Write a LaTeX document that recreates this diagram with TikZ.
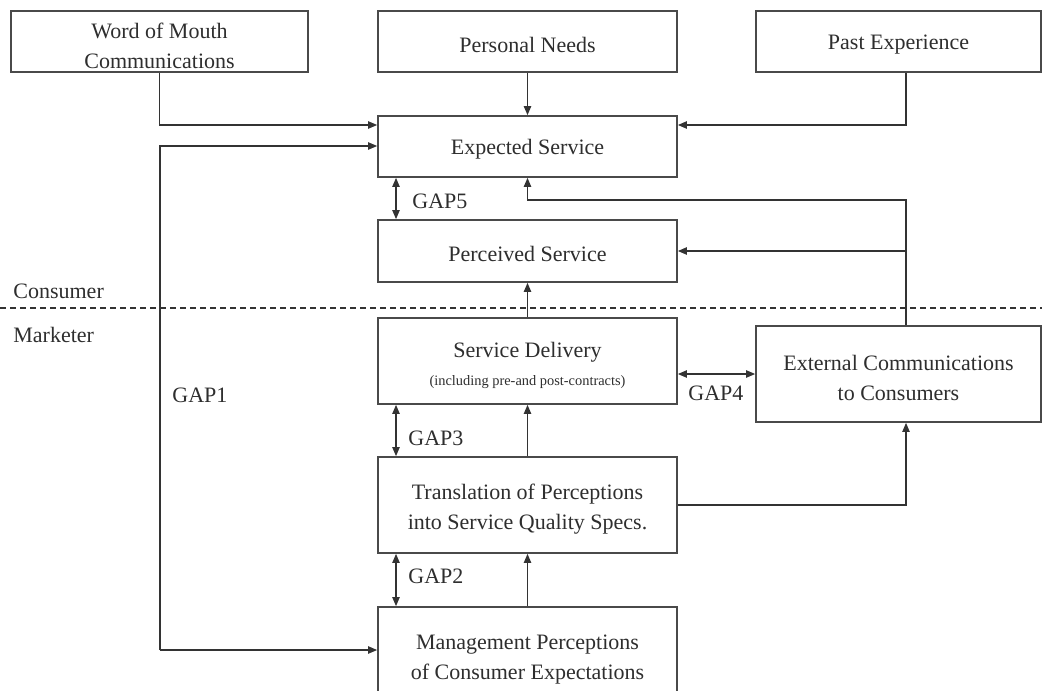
\documentclass[tikz,border=0pt]{standalone}
\usepackage{fontspec}
\setmainfont{Liberation Serif}
\usetikzlibrary{arrows.meta}
\definecolor{boxc}{HTML}{4A4A4A}
\definecolor{linec}{HTML}{333333}
\definecolor{txtc}{HTML}{2E2E2E}
\tikzset{
  box/.style={draw=boxc, line width=0.8pt, fill=white, align=center, inner sep=0pt,
    text=txtc, font=\fontsize{11}{15}\selectfont,
    execute at begin node={\rule{0pt}{10.8pt}}},
  box2/.style={draw=boxc, line width=0.8pt, fill=white, inner sep=0pt},
  txt/.style={align=center, inner sep=0pt, text=txtc, font=\fontsize{11}{15}\selectfont, yshift=-2pt},
  arr/.style={draw=linec, line width=0.75pt, -{Triangle[length=4.5pt,width=3.6pt]}},
  dbl/.style={draw=linec, line width=0.75pt, {Triangle[length=4.5pt,width=3.6pt]}-{Triangle[length=4.5pt,width=3.6pt]}},
  lab/.style={anchor=base west, inner sep=0pt, text=txtc, font=\fontsize{11}{15}\selectfont},
}
\begin{document}
\begin{tikzpicture}[x=0.5pt,y=-0.5pt]
\useasboundingbox (0,0) rectangle (1042,690);
% boxes
\node[box2, minimum width=148.5pt, minimum height=30.5pt] (wom) at (159.5,41.5) {};
\node[txt] (womt) at (wom) {Word of Mouth\\Communications};
\node[box, minimum width=149.5pt, minimum height=30.5pt] (pn) at (527.5,41.5) {Personal Needs};
\node[box, minimum width=142.5pt, minimum height=30.5pt] (pe) at (898.5,41.5) {Past Experience};
\node[box, minimum width=149.5pt, minimum height=30.5pt] (es) at (527.5,146.5) {Expected Service};
\node[box, minimum width=149.5pt, minimum height=31pt] (ps) at (527.5,251) {Perceived Service};
\node[box2, minimum width=149.5pt, minimum height=43pt] (sd) at (527.5,361) {};
\node[txt] (sdt) at (sd) {Service Delivery\\[-1pt]{\fontsize{7.2}{9}\selectfont (including pre-and post-contracts)}};
\node[box2, minimum width=142.5pt, minimum height=48pt] (ec) at (898.5,374) {};
\node[txt] (ect) at (ec) {External Communications\\to Consumers};
\node[box2, minimum width=149.5pt, minimum height=48pt] (tr) at (527.5,505) {};
\node[txt] (trt) at (tr) {Translation of Perceptions\\into Service Quality Specs.};
\node[box2, minimum width=149.5pt, minimum height=49pt] (mp) at (527.5,656) {};
\node[txt] (mpt) at (mp) {Management Perceptions\\of Consumer Expectations};
% divider
\draw[draw=linec, line width=0.6pt, dash pattern=on 3pt off 2pt] (0,308) -- (1042,308);
\node[lab] (consumer) at (13,298) {Consumer};
\node[lab] (marketer) at (13,342) {Marketer};
% connectors
\draw[arr] (wom.south) |- (es.west |- 0,125);
\draw[arr] (pn.south) -- (es.north);
\draw[arr] (pe.south -| 906,0) |- (es.east |- 0,125);
\coordinate (g1) at (160,650);
\draw[arr] (g1) |- (es.west |- 0,146);
\draw[arr] (g1) -- (mp.west |- g1);
\draw[arr] (ec.north -| 906,0) |- (es.south |- 0,200) -- (es.south);
\draw[arr] (ps.east -| 906,0) -- (ps.east);
\draw[arr] (sd.north) -- (ps.south);
\draw[arr] (tr.north) -- (sd.south);
\draw[arr] (mp.north) -- (tr.south);
\draw[arr] (tr.east) -| (ec.south -| 906,0);
% gaps
\draw[dbl] (es.south -| 396,0) -- (ps.north -| 396,0);
\draw[dbl] (sd.south -| 396,0) -- (tr.north -| 396,0);
\draw[dbl] (tr.south -| 396,0) -- (mp.north -| 396,0);
\draw[dbl] (sd.east |- 0,374) -- (ec.west |- 0,374);
\node[lab] (gap5) at (412,208) {GAP5};
\node[lab] (gap3) at (408,445) {GAP3};
\node[lab] (gap2) at (408,583) {GAP2};
\node[lab] (gap4) at (688,400) {GAP4};
\node[lab] (gap1) at (172,402) {GAP1};
\end{tikzpicture}
\end{document}
